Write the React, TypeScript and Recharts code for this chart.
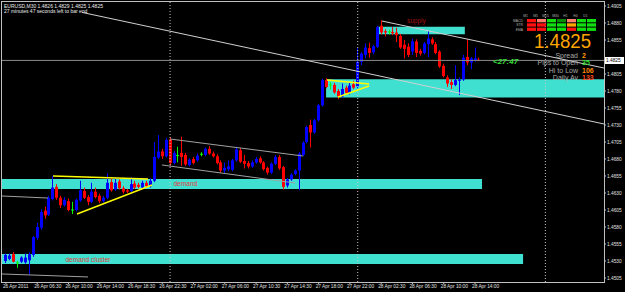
import React from 'react';
import {
  ComposedChart,
  Bar,
  XAxis,
  YAxis,
  ReferenceArea,
  ReferenceLine,
  ReferenceDot,
} from 'recharts';

// ---------- candle data (EURUSD M30) ----------
const opens = [
  1.4530, 1.4533, 1.4540, 1.4527, 1.4529, 1.4528, 1.4531, 1.4539, 1.4564, 1.4579,
  1.4604, 1.4598, 1.4621, 1.4639, 1.4623, 1.4612, 1.4618, 1.4605, 1.4605, 1.4619,
  1.4633, 1.4624, 1.4617, 1.4632, 1.4626, 1.4618, 1.4623, 1.4646, 1.4635, 1.4647,
  1.4637, 1.4634, 1.4633, 1.4644, 1.4642, 1.4638, 1.4645, 1.4640, 1.4648, 1.4682,
  1.4691, 1.4684, 1.4709, 1.4674, 1.4685, 1.4689, 1.4686, 1.4671, 1.4680, 1.4678,
  1.4687, 1.4686, 1.4695, 1.4688, 1.4684, 1.4675, 1.4663, 1.4665, 1.4664, 1.4678,
  1.4693, 1.4677, 1.4674, 1.4669, 1.4675, 1.4681, 1.4675, 1.4667, 1.4660, 1.4673,
  1.4683, 1.4668, 1.4641, 1.4650, 1.4658, 1.4663, 1.4686, 1.4705, 1.4730, 1.4719,
  1.4737, 1.4759, 1.4796, 1.4789, 1.4789, 1.4780, 1.4772, 1.4785, 1.4777, 1.4790,
  1.4787, 1.4823, 1.4833, 1.4843, 1.4837, 1.4845, 1.4876, 1.4868, 1.4867, 1.4867,
  1.4866, 1.4861, 1.4848, 1.4845, 1.4838, 1.4853, 1.4839, 1.4836, 1.4849, 1.4856,
  1.4849, 1.4838, 1.4817, 1.4800, 1.4793, 1.4789, 1.4795, 1.4797, 1.4830, 1.4822,
  1.4825, 1.4826,
];
const highs = [
  1.4541, 1.4541, 1.4543, 1.4530, 1.4537, 1.4541, 1.4543, 1.4567, 1.4586, 1.4606,
  1.4610, 1.4626, 1.4655, 1.4643, 1.4626, 1.4624, 1.4622, 1.4617, 1.4622, 1.4648,
  1.4638, 1.4627, 1.4645, 1.4638, 1.4629, 1.4626, 1.4659, 1.4651, 1.4653, 1.4650,
  1.4640, 1.4636, 1.4653, 1.4648, 1.4645, 1.4648, 1.4648, 1.4652, 1.4705, 1.4715,
  1.4695, 1.4711, 1.4712, 1.4692, 1.4698, 1.4713, 1.4689, 1.4681, 1.4683, 1.4688,
  1.4690, 1.4697, 1.4699, 1.4691, 1.4687, 1.4678, 1.4675, 1.4678, 1.4680, 1.4698,
  1.4696, 1.4686, 1.4677, 1.4678, 1.4683, 1.4684, 1.4677, 1.4669, 1.4675, 1.4686,
  1.4686, 1.4670, 1.4652, 1.4659, 1.4665, 1.4690, 1.4706, 1.4729, 1.4738, 1.4739,
  1.4761, 1.4798, 1.4799, 1.4793, 1.4792, 1.4783, 1.4791, 1.4788, 1.4792, 1.4795,
  1.4843, 1.4837, 1.4850, 1.4851, 1.4848, 1.4876, 1.4884, 1.4871, 1.4870, 1.4874,
  1.4873, 1.4864, 1.4855, 1.4850, 1.4857, 1.4856, 1.4842, 1.4852, 1.4868, 1.4859,
  1.4852, 1.4840, 1.4820, 1.4803, 1.4797, 1.4818, 1.4800, 1.4833, 1.4856, 1.4830,
  1.4844, 1.4829,
];
const lows = [
  1.4527, 1.4531, 1.4528, 1.4520, 1.4527, 1.4526, 1.4510, 1.4536, 1.4561, 1.4576,
  1.4592, 1.4596, 1.4619, 1.4620, 1.4608, 1.4610, 1.4603, 1.4599, 1.4603, 1.4617,
  1.4621, 1.4612, 1.4615, 1.4622, 1.4615, 1.4616, 1.4621, 1.4632, 1.4633, 1.4635,
  1.4629, 1.4630, 1.4631, 1.4636, 1.4637, 1.4636, 1.4638, 1.4638, 1.4646, 1.4680,
  1.4680, 1.4682, 1.4670, 1.4672, 1.4675, 1.4670, 1.4670, 1.4669, 1.4672, 1.4676,
  1.4684, 1.4684, 1.4686, 1.4682, 1.4672, 1.4660, 1.4659, 1.4662, 1.4662, 1.4676,
  1.4674, 1.4666, 1.4666, 1.4667, 1.4673, 1.4673, 1.4663, 1.4657, 1.4658, 1.4671,
  1.4664, 1.4635, 1.4638, 1.4648, 1.4656, 1.4634, 1.4684, 1.4703, 1.4697, 1.4717,
  1.4735, 1.4757, 1.4784, 1.4782, 1.4776, 1.4768, 1.4770, 1.4775, 1.4775, 1.4783,
  1.4784, 1.4818, 1.4828, 1.4829, 1.4834, 1.4843, 1.4863, 1.4860, 1.4863, 1.4862,
  1.4852, 1.4842, 1.4828, 1.4830, 1.4833, 1.4830, 1.4832, 1.4834, 1.4830, 1.4848,
  1.4834, 1.4814, 1.4800, 1.4786, 1.4783, 1.4787, 1.4774, 1.4795, 1.4818, 1.4812,
  1.4823, 1.4825,
];
const closes = [
  1.4539, 1.4538, 1.4529, 1.4527, 1.4535, 1.4535, 1.4540, 1.4565, 1.4580, 1.4602,
  1.4597, 1.4623, 1.4638, 1.4623, 1.4612, 1.4620, 1.4605, 1.4605, 1.4620, 1.4634,
  1.4623, 1.4617, 1.4632, 1.4624, 1.4618, 1.4623, 1.4645, 1.4634, 1.4645, 1.4637,
  1.4632, 1.4632, 1.4643, 1.4638, 1.4639, 1.4645, 1.4640, 1.4648, 1.4683, 1.4691,
  1.4684, 1.4708, 1.4674, 1.4689, 1.4685, 1.4683, 1.4672, 1.4679, 1.4674, 1.4685,
  1.4687, 1.4695, 1.4688, 1.4684, 1.4674, 1.4663, 1.4667, 1.4669, 1.4678, 1.4694,
  1.4676, 1.4673, 1.4669, 1.4675, 1.4680, 1.4675, 1.4665, 1.4660, 1.4673, 1.4683,
  1.4666, 1.4639, 1.4650, 1.4657, 1.4663, 1.4688, 1.4704, 1.4727, 1.4719, 1.4737,
  1.4759, 1.4796, 1.4786, 1.4789, 1.4778, 1.4772, 1.4783, 1.4777, 1.4788, 1.4785,
  1.4823, 1.4835, 1.4844, 1.4836, 1.4846, 1.4874, 1.4866, 1.4866, 1.4867, 1.4865,
  1.4862, 1.4844, 1.4842, 1.4833, 1.4853, 1.4836, 1.4835, 1.4850, 1.4857, 1.4850,
  1.4836, 1.4816, 1.4802, 1.4791, 1.4789, 1.4796, 1.4797, 1.4829, 1.4822, 1.4828,
  1.4828, 1.4825,
];

// ---------- axes ----------
const timeTickBars = [0, 8, 16, 24, 32, 40, 48, 56, 64, 72, 80, 88, 96, 104, 112, 120];
const timeTickLabels = [
  '26 Apr 2011', '26 Apr 06:30', '26 Apr 10:00', '26 Apr 14:00', '26 Apr 18:30', '26 Apr 22:30',
  '27 Apr 02:00', '27 Apr 06:00', '27 Apr 10:30', '27 Apr 14:30', '27 Apr 18:00', '27 Apr 22:00',
  '28 Apr 02:30', '28 Apr 06:30', '28 Apr 10:00', '28 Apr 14:00',
];
const priceTicks = [
  1.4505, 1.4530, 1.4555, 1.4580, 1.4605, 1.4630, 1.4655, 1.4680, 1.4705,
  1.4730, 1.4755, 1.4780, 1.4805, 1.4855, 1.4880, 1.4905,
];
const daySeparatorBars = [42, 90, 138];
const currentPrice = 1.4825;

// ---------- zones (supply / demand rectangles) ----------
const zoneStartBar = [-1, -1, 81.9, 95.2];
const zoneEndBar = [132.3, 121.8, 153, 117.4];
const zoneLow = [1.45256, 1.46359, 1.47704, 1.48634];
const zoneHigh = [1.45403, 1.46506, 1.47972, 1.48746];

// ---------- zone labels ----------
const labelTexts = ['supply', 'demand', 'demand cluster'];
const labelBars = [105.0, 45.9, 21.0];
const labelPrices = [1.48829, 1.46432, 1.45322];

// ---------- trend lines ----------
const grayLineStartBar = [19.47, 96.2, 41.98, 39.9, -1, -1];
const grayLineEndBar = [153, 153, 76.0, 73.95, 10.77, 21.0];
const grayLineStartPrice = [1.48956, 1.48829, 1.47094, 1.46712, 1.46256, 1.45109];
const grayLineEndPrice = [1.47315, 1.48138, 1.46844, 1.46447, 1.46226, 1.45065];

const yellowLineStartBar = [12.05, 18.19, 82.14, 84.96];
const yellowLineEndBar = [36.35, 37.37, 92.9, 92.9];
const yellowLineStartPrice = [1.4655, 1.45991, 1.47962, 1.47712];
const yellowLineEndPrice = [1.46506, 1.46418, 1.47903, 1.47874];

// ---------- info panel ----------
const panelTimeframes = ['M1', 'M5', 'M15', 'M30', 'H1', 'H4', 'D1'];
const panelRows = ['MACD', 'STR', 'EMA'];
const panelColors = [
  ['#ff1010', '#ff8070', '#10e010', '#0a8a0a', '#ff8070', '#10e010', '#10e010'],
  ['#ff1010', '#ff1010', '#10e010', '#10e010', '#ffa500', '#10e010', '#10e010'],
  ['#ff1010', '#ff1010', '#10e010', '#10e010', '#ff1010', '#10e010', '#10e010'],
];
const statNames = ['Spread', 'Pips to Open', 'Hi to Low', 'Daily Av'];
const statValues = ['2', '35', '106', '133'];
const statColors = ['#ff9900', '#33dd33', '#ff8800', '#ff4a1a'];

const Y_MIN = 1.44991;
const Y_MAX = 1.49109;
const FONT = '"Liberation Sans", Arial, sans-serif';

const candles = opens.map((o, i) => ({
  i,
  o,
  h: highs[i],
  l: lows[i],
  c: closes[i],
  range: [lows[i], highs[i]],
}));

const Candle = (props: any) => {
  const { x, y, width, height, payload } = props;
  if (x == null || y == null || !payload) return null;
  const { o, h, l, c } = payload;
  const top = Math.min(y, y + height);
  const bot = Math.max(y, y + height);
  const span = h - l;
  const toY = (p: number) => (span === 0 ? top : top + ((h - p) / span) * (bot - top));
  const cx = Math.round(x + width / 2);
  const color = c > o ? '#0000ff' : c < o ? '#ff0000' : '#00ff00';
  const yo = toY(o);
  const yc = toY(c);
  const bTop = Math.min(yo, yc);
  const bBot = Math.max(yo, yc);
  return (
    <g>
      <line x1={cx + 0.5} x2={cx + 0.5} y1={top} y2={bot} stroke={color} strokeWidth={1} />
      {c === o ? (
        <line x1={cx - 1} x2={cx + 2} y1={yo} y2={yo} stroke={color} strokeWidth={1} />
      ) : (
        <rect x={cx - 1} y={bTop} width={3} height={Math.max(1, bBot - bTop)} fill={color} />
      )}
    </g>
  );
};

const XTick = (props: any) => {
  const { x, y, payload } = props;
  const idx = timeTickBars.indexOf(payload.value);
  return (
    <text x={x - 3} y={y + 4} fill="#e0e0e0" fontSize={4.8} fontFamily={FONT} textAnchor="start">
      {idx >= 0 ? timeTickLabels[idx] : ''}
    </text>
  );
};

export default function App() {
  return (
    <div style={{ position: 'absolute', left: 0, top: 0, width: 625, height: 292, background: '#000', overflow: 'hidden' }}>
      <div style={{ position: 'absolute', left: 0, top: 0 }}>
        <ComposedChart
          width={625}
          height={292}
          data={candles}
          margin={{ top: 2, right: 0, bottom: 0, left: 2 }}
        >
          <XAxis
            type="number"
            dataKey="i"
            domain={[-1, 153]}
            allowDataOverflow
            ticks={timeTickBars}
            interval={0}
            height={10}
            axisLine={false}
            tickLine={{ stroke: '#c0c0c0' }}
            tickSize={2}
            tickMargin={0}
            tick={<XTick />}
          />
          <YAxis
            type="number"
            orientation="right"
            domain={[Y_MIN, Y_MAX]}
            allowDataOverflow
            ticks={priceTicks}
            interval={0}
            width={21}
            axisLine={false}
            tickLine={{ stroke: '#c0c0c0' }}
            tickSize={2}
            tickMargin={1}
            tick={{ fill: '#e0e0e0', fontSize: 4.8, fontFamily: FONT }}
            tickFormatter={(v: number) => v.toFixed(4)}
          />
          {zoneLow.map((lo, k) => (
            <ReferenceArea
              key={'z' + k}
              x1={zoneStartBar[k]}
              x2={zoneEndBar[k]}
              y1={lo}
              y2={zoneHigh[k]}
              fill="#40e0d0"
              fillOpacity={1}
              stroke="none"
              ifOverflow="visible"
            />
          ))}
          {daySeparatorBars.map((b) => (
            <ReferenceLine key={'d' + b} x={b} stroke="#c8c8c8" strokeDasharray="1 2" />
          ))}
          <ReferenceLine y={currentPrice} stroke="#8a8a8a" strokeWidth={1} />
          {grayLineStartBar.map((sb, k) => (
            <ReferenceLine
              key={'g' + k}
              segment={[
                { x: sb, y: grayLineStartPrice[k] },
                { x: grayLineEndBar[k], y: grayLineEndPrice[k] },
              ]}
              stroke={k < 2 ? '#d0d0d0' : '#a0a0a0'}
              strokeWidth={1}
              ifOverflow="visible"
            />
          ))}
          {yellowLineStartBar.map((sb, k) => (
            <ReferenceLine
              key={'yl' + k}
              segment={[
                { x: sb, y: yellowLineStartPrice[k] },
                { x: yellowLineEndBar[k], y: yellowLineEndPrice[k] },
              ]}
              stroke="#ffff00"
              strokeWidth={1.4}
              ifOverflow="visible"
            />
          ))}
          <Bar dataKey="range" barSize={3} shape={Candle} isAnimationActive={false} />
          {labelTexts.map((t, k) => (
            <ReferenceDot
              key={'lb' + k}
              x={labelBars[k]}
              y={labelPrices[k]}
              r={0}
              fill="none"
              stroke="none"
              ifOverflow="visible"
              label={{
                value: t,
                position: 'center',
                fill: k === 0 ? '#a01010' : '#e03a3a',
                fontSize: k === 0 ? 6.5 : 6.6,
                fontFamily: FONT,
              }}
            />
          ))}
        </ComposedChart>
      </div>
      <svg width={625} height={292} style={{ position: 'absolute', left: 0, top: 0, pointerEvents: 'none' }} fontFamily={FONT}>
        <rect x={1.5} y={1.5} width={603} height={281} fill="none" stroke="#c0c0c0" strokeWidth={1} />
        <text x={4} y={8} fill="#ececec" fontSize={5}>EURUSD,M30  1.4826 1.4829 1.4825 1.4825</text>
        <text x={4} y={13} fill="#ececec" fontSize={5}>27 minutes 47 seconds left to bar end</text>
        {panelTimeframes.map((tf, c) => (
          <text key={'tf' + c} x={531.5 + c * 10 - 6} y={17} fill="#b0b0b0" fontSize={3.4} textAnchor="middle">{tf}</text>
        ))}
        {panelRows.map((r, ri) => (
          <g key={'pr' + ri}>
            <text x={523} y={22 + ri * 4.3} fill="#b0b0b0" fontSize={3.4} textAnchor="end">{r}</text>
            {panelColors[ri].map((col, ci) => (
              <rect key={'pc' + ci} x={527 + ci * 10} y={19 + ri * 4.3} width={9} height={3.3} fill={col} />
            ))}
          </g>
        ))}
        <text x={591} y={48} fill="#ffa500" fontSize={20} textAnchor="end" textLength={57} lengthAdjust="spacingAndGlyphs">1.4825</text>
        {statNames.map((s, k) => (
          <g key={'st' + k}>
            <text x={578} y={58 + k * 7.3} fill="#a8a8a8" fontSize={7} textAnchor="end">{s}</text>
            <text x={582} y={58 + k * 7.3} fill={statColors[k]} fontSize={7} fontWeight="bold">{statValues[k]}</text>
          </g>
        ))}
        <text x={493} y={64} fill="#33dd33" fontSize={8} fontStyle="italic" fontWeight="bold">&lt;27:47</text>
        <rect x={605} y={57} width={19} height={7} fill="#ffffff" />
        <text x={606} y={62.3} fill="#000" fontSize={4.8}>1.4825</text>
      </svg>
    </div>
  );
}
